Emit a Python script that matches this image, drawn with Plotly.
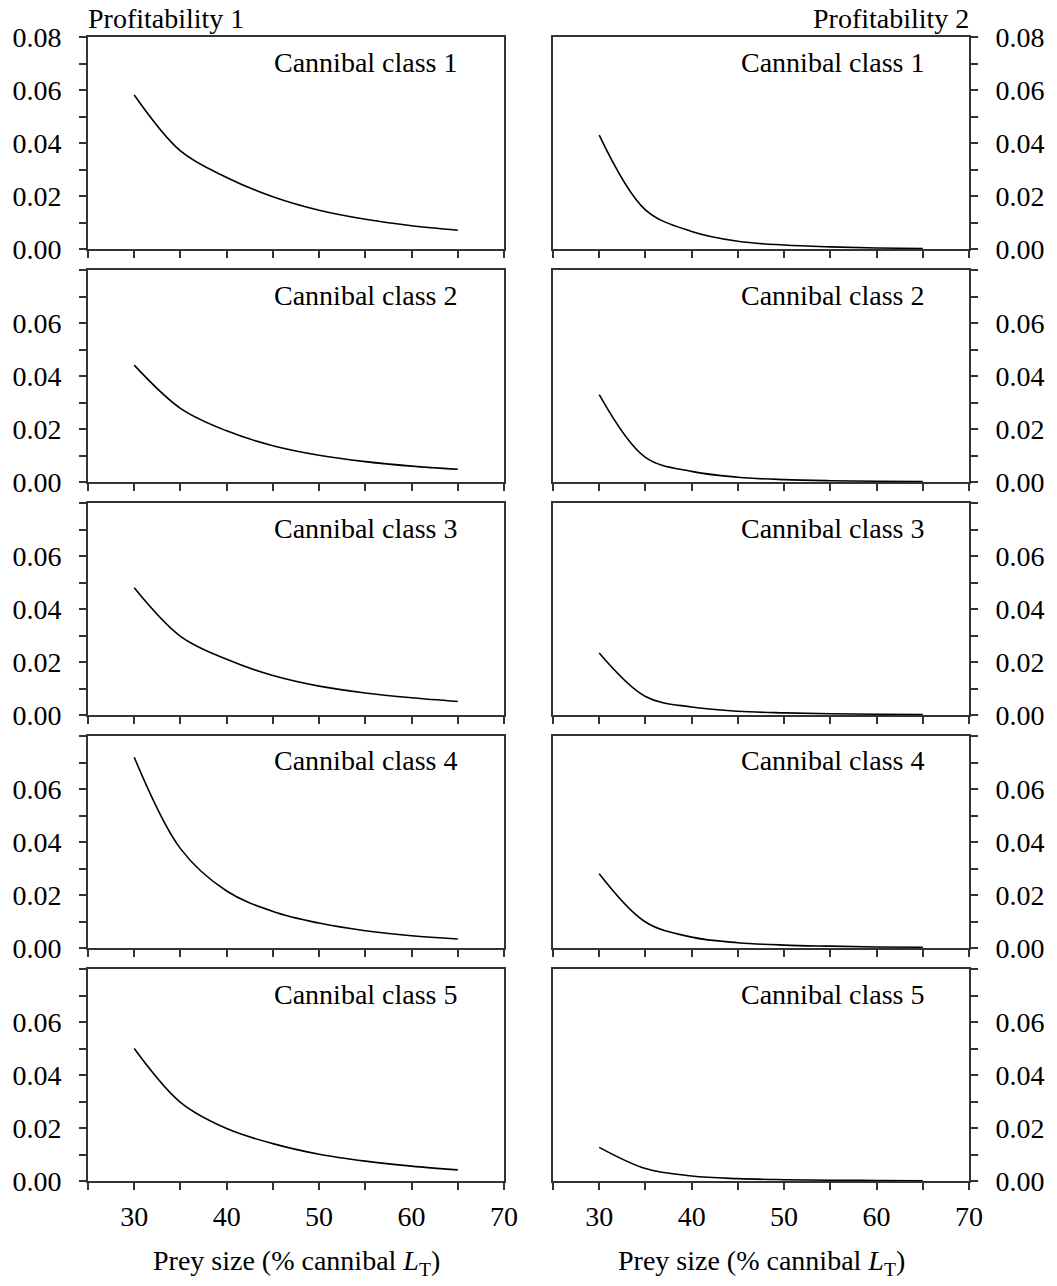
import plotly.graph_objects as go

# ---- data ----
prey_size = [30, 35, 40, 45, 50, 55, 60, 65]

# Profitability 1 (left column)
p1_class1 = [0.0581, 0.0370, 0.0270, 0.0197, 0.0146, 0.0112, 0.0088, 0.0071]
p1_class2 = [0.0441, 0.0278, 0.0193, 0.0137, 0.0101, 0.0077, 0.0060, 0.0048]
p1_class3 = [0.0480, 0.0297, 0.0210, 0.0149, 0.0109, 0.0083, 0.0065, 0.0051]
p1_class4 = [0.0720, 0.0375, 0.0215, 0.0138, 0.0094, 0.0065, 0.0046, 0.0034]
p1_class5 = [0.0500, 0.0297, 0.0198, 0.0141, 0.0101, 0.0075, 0.0056, 0.0042]

# Profitability 2 (right column)
p2_class1 = [0.0430, 0.0148, 0.0066, 0.0029, 0.0015, 0.0008, 0.0004, 0.0002]
p2_class2 = [0.0330, 0.0093, 0.0040, 0.0018, 0.0009, 0.0005, 0.0003, 0.0002]
p2_class3 = [0.0234, 0.0070, 0.0030, 0.0014, 0.0008, 0.0005, 0.0003, 0.0002]
p2_class4 = [0.0280, 0.0098, 0.0041, 0.0020, 0.0011, 0.0007, 0.0004, 0.0003]
p2_class5 = [0.0127, 0.0047, 0.0019, 0.0009, 0.0005, 0.0003, 0.0002, 0.0001]

left_series = [p1_class1, p1_class2, p1_class3, p1_class4, p1_class5]
right_series = [p2_class1, p2_class2, p2_class3, p2_class4, p2_class5]
class_labels = ["Cannibal class 1", "Cannibal class 2", "Cannibal class 3",
                "Cannibal class 4", "Cannibal class 5"]
column_titles = ["Profitability 1", "Profitability 2"]
x_title = "Prey size (% cannibal <i>L</i><sub>T</sub>)"

x_tickvals = [25, 30, 35, 40, 45, 50, 55, 60, 65, 70]
x_ticktext = ["", "30", "", "40", "", "50", "", "60", "", "70"]
y_tickvals = [0.00, 0.01, 0.02, 0.03, 0.04, 0.05, 0.06, 0.07, 0.08]
y_ticktext_top = ["0.00", "", "0.02", "", "0.04", "", "0.06", "", "0.08"]
y_ticktext = ["0.00", "", "0.02", "", "0.04", "", "0.06", "", ""]

# ---- layout geometry ----
W, H = 1057, 1286
FONT = "Liberation Serif"
FS = 28
AX = "#333333"
col_px = [(88, 504), (553, 969)]
row_top_px = [37, 270, 503, 736, 969]
PANEL_H = 212

fig = go.Figure()
layout = dict(
    template="none",
    width=W, height=H, margin=dict(l=0, r=0, t=0, b=0, pad=0, autoexpand=False),
    paper_bgcolor="white", plot_bgcolor="white", showlegend=False,
    font=dict(family=FONT, size=FS, color="black"),
)
annotations = []

idx = 0
for r in range(5):
    for c in range(2):
        idx += 1
        xa = "x" if idx == 1 else f"x{idx}"
        ya = "y" if idx == 1 else f"y{idx}"
        xkey = "xaxis" if idx == 1 else f"xaxis{idx}"
        ykey = "yaxis" if idx == 1 else f"yaxis{idx}"
        data = left_series[r] if c == 0 else right_series[r]
        fig.add_trace(go.Scatter(
            x=prey_size, y=data, mode="lines", xaxis=xa, yaxis=ya,
            line=dict(color="black", width=1.6, shape="spline", smoothing=1.0),
            hoverinfo="skip",
        ))
        x0, x1 = col_px[c]
        top = row_top_px[r]
        bot = top + PANEL_H
        layout[xkey] = dict(
            domain=[x0 / W, x1 / W], anchor=ya, range=[25, 70],
            tickmode="array", tickvals=x_tickvals, ticktext=x_ticktext,
            showticklabels=(r == 4), ticks="outside", ticklen=7, tickwidth=1.5,
            tickcolor=AX, showline=True, linecolor=AX, linewidth=2,
            mirror=True, showgrid=False, zeroline=False, automargin=False,
            tickfont=dict(family=FONT, size=FS, color="black"),
            ticklabelstandoff=2,
        )
        layout[ykey] = dict(
            domain=[1 - bot / H, 1 - top / H], anchor=xa, range=[0, 0.08],
            side="left" if c == 0 else "right",
            tickmode="array", tickvals=y_tickvals,
            ticktext=y_ticktext_top if r == 0 else y_ticktext,
            ticks="outside", ticklen=7, tickwidth=1.5, tickcolor=AX,
            showline=True, linecolor=AX, linewidth=2, mirror=True,
            showgrid=False, zeroline=False, automargin=False,
            tickfont=dict(family=FONT, size=FS, color="black"),
            ticklabelstandoff=12,
        )
        # class label
        annotations.append(dict(
            text=class_labels[r], xref="paper", yref="paper",
            x=(460 if c == 0 else 927) / W, y=1 - (top + 25) / H,
            xanchor="right", yanchor="middle", showarrow=False,
            font=dict(family=FONT, size=FS, color="black"),
        ))

# column titles
annotations.append(dict(text=column_titles[0], xref="paper", yref="paper",
                        x=86 / W, y=1 - 19 / H, xanchor="left", yanchor="middle",
                        showarrow=False, font=dict(family=FONT, size=FS, color="black")))
annotations.append(dict(text=column_titles[1], xref="paper", yref="paper",
                        x=971 / W, y=1 - 19 / H, xanchor="right", yanchor="middle",
                        showarrow=False, font=dict(family=FONT, size=FS, color="black")))
# x-axis titles
for c in range(2):
    x0, x1 = col_px[c]
    annotations.append(dict(text=x_title, xref="paper", yref="paper",
                            x=(x0 + x1) / 2 / W, y=1 - 1262 / H,
                            xanchor="center", yanchor="middle", showarrow=False,
                            font=dict(family=FONT, size=FS, color="black")))

layout["annotations"] = annotations
fig.update_layout(**layout)
fig.write_html("out.html")
